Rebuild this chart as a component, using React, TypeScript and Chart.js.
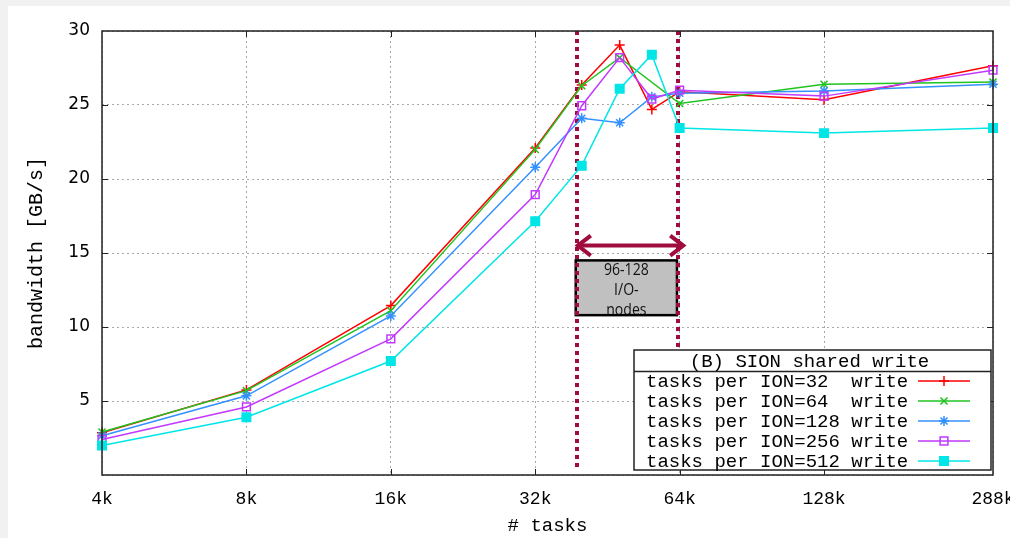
import React, { useEffect, useRef } from "react";
import { Chart, registerables } from "chart.js";
import { drawPoint } from "chart.js/helpers";

Chart.register(...registerables);

// ---- data ----
const TASKS = [4096, 8192, 16384, 32768, 40960, 49152, 57344, 65536, 131072, 294912];
const ION32 = [2.85, 5.75, 11.45, 22.1, 26.35, 29.05, 24.7, 25.9, 25.35, 27.65];
const ION64 = [2.9, 5.7, 11.1, 22.0, 26.3, 28.2, null, 25.1, 26.4, 26.55];
const ION128 = [2.65, 5.35, 10.75, 20.8, 24.1, 23.8, 25.55, 25.8, 25.95, 26.4];
const ION256 = [2.4, 4.6, 9.2, 18.95, 24.95, 28.2, 25.4, 26.0, 25.6, 27.35];
const ION512 = [2.0, 3.9, 7.7, 17.15, 20.9, 26.1, 28.4, 23.45, 23.1, 23.45];

const SERIES_LABELS = [
  "tasks per ION=32  write",
  "tasks per ION=64  write",
  "tasks per ION=128 write",
  "tasks per ION=256 write",
  "tasks per ION=512 write",
];
const LEGEND_TITLE = "(B) SION shared write";

const X_TICKS = [4096, 8192, 16384, 32768, 65536, 131072, 294912];
const X_TICK_LABELS = ["4k", "8k", "16k", "32k", "64k", "128k", "288k"];
const Y_TICKS = [0, 5, 10, 15, 20, 25, 30];
const Y_TICK_LABELS = ["", "5", "10", "15", "20", "25", "30"];
const X_TITLE = "# tasks";
const Y_TITLE = "bandwidth [GB/s]";

// annotation (I/O node range)
const RANGE_LINES = [40000, 65000];
const ARROW_X = [40000, 67000];
const ARROW_Y = 15.5;
const BOX_X = [39800, 64700];
const BOX_Y = [10.8, 14.5];
const BOX_TEXT = ["96-128", "I/O-", "nodes"];

const MAROON = "#a00c3e";

const STYLES = [
  { color: "#ff0000", fill: "#ff0000", point: "cross", r: 5 },
  { color: "#1fc41f", fill: "#1fc41f", point: "crossRot", r: 5 },
  { color: "#3391ff", fill: "#3391ff", point: "star", r: 5 },
  { color: "#c238ff", fill: "rgba(0,0,0,0)", point: "rect", r: 5.5 },
  { color: "#00e6e6", fill: "#00e6e6", point: "rect", r: 6 },
];
const SERIES_VALUES = [ION32, ION64, ION128, ION256, ION512];

const annotPlugin = {
  id: "annot",
  beforeDatasetsDraw(chart: any) {
    const { ctx, chartArea: ca, scales } = chart;
    const x = scales.x, y = scales.y;
    ctx.save();
    // grey box
    const bx0 = x.getPixelForValue(BOX_X[0]);
    const bx1 = x.getPixelForValue(BOX_X[1]);
    const by0 = y.getPixelForValue(BOX_Y[1]);
    const by1 = y.getPixelForValue(BOX_Y[0]);
    ctx.fillStyle = "#c0c0c0";
    ctx.fillRect(bx0, by0, bx1 - bx0, by1 - by0);
    ctx.save();
    ctx.beginPath();
    ctx.rect(bx0, by0, bx1 - bx0, by1 - by0);
    ctx.clip();
    ctx.fillStyle = "#111";
    ctx.font = '16px "Open Sans"';
    ctx.textAlign = "center";
    ctx.textBaseline = "alphabetic";
    const cx = (bx0 + bx1) / 2;
    BOX_TEXT.forEach((t, i) => {
      ctx.save();
      ctx.translate(cx, by0 + 14.5 + i * 20);
      ctx.scale(0.88, 1);
      ctx.fillText(t, 0, 0);
      ctx.restore();
    });
    ctx.restore();
    ctx.strokeStyle = "#000";
    ctx.lineWidth = 2.5;
    ctx.strokeRect(bx0, by0, bx1 - bx0, by1 - by0);

    // dotted vertical lines
    ctx.strokeStyle = MAROON;
    ctx.lineWidth = 4;
    ctx.lineCap = "butt";
    ctx.setLineDash([4, 4]);
    RANGE_LINES.forEach((v) => {
      const px = Math.round(x.getPixelForValue(v));
      ctx.beginPath();
      ctx.moveTo(px, ca.top);
      ctx.lineTo(px, ca.bottom - 6);
      ctx.stroke();
    });
    ctx.setLineDash([]);

    // double arrow
    const ax0 = x.getPixelForValue(ARROW_X[0]);
    const ax1 = x.getPixelForValue(ARROW_X[1]);
    const ay = y.getPixelForValue(ARROW_Y);
    ctx.lineWidth = 4;
    ctx.lineJoin = "miter";
    ctx.beginPath();
    ctx.moveTo(ax0 + 2, ay);
    ctx.lineTo(ax1 - 2, ay);
    ctx.stroke();
    ctx.beginPath();
    ctx.moveTo(ax0 + 14, ay - 10);
    ctx.lineTo(ax0 + 1, ay);
    ctx.lineTo(ax0 + 14, ay + 10);
    ctx.stroke();
    ctx.beginPath();
    ctx.moveTo(ax1 - 14, ay - 10);
    ctx.lineTo(ax1 - 1, ay);
    ctx.lineTo(ax1 - 14, ay + 10);
    ctx.stroke();
    ctx.restore();
  },
  afterDatasetsDraw(chart: any) {
    const { ctx, chartArea: ca, scales } = chart;
    const x = scales.x, y = scales.y;
    ctx.save();
    // border
    ctx.strokeStyle = "#222";
    ctx.lineWidth = 1.5;
    ctx.strokeRect(ca.left, ca.top, ca.right - ca.left, ca.bottom - ca.top);
    // inward tick marks
    ctx.lineWidth = 1;
    ctx.beginPath();
    X_TICKS.slice(1, -1).forEach((v) => {
      const px = Math.round(x.getPixelForValue(v)) + 0.5;
      ctx.moveTo(px, ca.bottom);
      ctx.lineTo(px, ca.bottom - 6);
      ctx.moveTo(px, ca.top);
      ctx.lineTo(px, ca.top + 6);
    });
    Y_TICKS.slice(1, -1).forEach((v) => {
      const py = Math.round(y.getPixelForValue(v)) + 0.5;
      ctx.moveTo(ca.left, py);
      ctx.lineTo(ca.left + 6, py);
      ctx.moveTo(ca.right, py);
      ctx.lineTo(ca.right - 6, py);
    });
    ctx.stroke();

    // legend box
    const R = ca.right - 2;
    const B = ca.bottom - 5;
    const L = R - 357;
    const T = B - 120;
    ctx.fillStyle = "#fff";
    ctx.fillRect(L, T, R - L, B - T);
    ctx.strokeStyle = "#222";
    ctx.lineWidth = 1.5;
    ctx.strokeRect(L, T, R - L, B - T);
    ctx.beginPath();
    ctx.moveTo(L, T + 21.5);
    ctx.lineTo(R, T + 21.5);
    ctx.stroke();
    ctx.fillStyle = "#000";
    ctx.font = '19px "Liberation Mono"';
    ctx.textBaseline = "middle";
    ctx.textAlign = "center";
    ctx.fillText(LEGEND_TITLE, (L + R) / 2 - 3, T + 11.5);
    ctx.textAlign = "left";
    SERIES_LABELS.forEach((lab, i) => {
      const cy = T + 31 + i * 20;
      ctx.fillStyle = "#000";
      ctx.fillText(lab, L + 12, cy + 1);
      const s = STYLES[i];
      ctx.strokeStyle = s.color;
      ctx.lineWidth = 1.5;
      ctx.beginPath();
      ctx.moveTo(R - 73, cy);
      ctx.lineTo(R - 21, cy);
      ctx.stroke();
      ctx.fillStyle = s.fill;
      drawPoint(ctx, { pointStyle: s.point, rotation: 0, radius: s.r, borderWidth: 1.5 } as any, R - 47, cy);
    });
    ctx.restore();
  },
};

export default function App() {
  const ref = useRef<HTMLCanvasElement | null>(null);

  useEffect(() => {
    if (!ref.current) return;
    const datasets = SERIES_VALUES.map((vals, i) => {
      const s = STYLES[i];
      return {
        label: SERIES_LABELS[i],
        data: TASKS.map((t, j) => ({ x: t, y: vals[j] })).filter((p) => p.y !== null),
        borderColor: s.color,
        backgroundColor: s.fill,
        borderWidth: 1.5,
        pointStyle: s.point,
        pointRadius: s.r,
        pointBorderWidth: 1.5,
        pointBorderColor: s.color,
        pointBackgroundColor: s.fill,
        tension: 0,
        clip: false,
        order: 4 - i,
      };
    });

    const chart = new Chart(ref.current, {
      type: "line",
      data: { datasets } as any,
      options: {
        animation: false,
        responsive: true,
        maintainAspectRatio: false,
        events: [],
        layout: { padding: { top: 25, right: 17, left: 0, bottom: 0 } },
        plugins: { legend: { display: false }, tooltip: { enabled: false } },
        scales: {
          x: {
            type: "logarithmic",
            min: 4096,
            max: 294912,
            afterBuildTicks: (scale: any) => {
              scale.ticks = X_TICKS.map((v) => ({ value: v }));
            },
            afterFit: (scale: any) => {
              scale.height = 63;
              scale.paddingLeft = 0;
              scale.paddingRight = 0;
            },
            ticks: {
              autoSkip: false,
              maxRotation: 0,
              minRotation: 0,
              padding: 13,
              color: "#000",
              font: { family: "Liberation Mono", size: 18 },
              callback: (v: any) => {
                const k = X_TICKS.indexOf(Number(v));
                return k >= 0 ? X_TICK_LABELS[k] : "";
              },
            },
            grid: { color: "#a8a8a8", lineWidth: 1, drawTicks: false },
            border: { display: false, dash: [2, 3] },
            title: {
              display: true,
              text: X_TITLE,
              color: "#000",
              font: { family: "Liberation Mono", size: 19 },
              padding: { top: 0, bottom: 1 },
            },
          },
          y: {
            type: "linear",
            min: 0,
            max: 30,
            afterBuildTicks: (scale: any) => {
              scale.ticks = Y_TICKS.map((v) => ({ value: v }));
            },
            afterFit: (scale: any) => {
              scale.width = 94;
              scale.paddingTop = 0;
              scale.paddingBottom = 0;
            },
            ticks: {
              padding: 12,
              color: "#000",
              font: { family: "DejaVu Sans", size: 17 },
              callback: (v: any) => {
                const k = Y_TICKS.indexOf(Number(v));
                return k >= 0 ? Y_TICK_LABELS[k] : "";
              },
            },
            grid: { color: "#a8a8a8", lineWidth: 1, drawTicks: false },
            border: { display: false, dash: [2, 3] },
            title: {
              display: true,
              text: Y_TITLE,
              color: "#000",
              font: { family: "Liberation Mono", size: 20 },
              padding: { top: 17, bottom: 0 },
            },
          },
        },
      } as any,
      plugins: [annotPlugin],
    });
    return () => chart.destroy();
  }, []);

  return (
    <div style={{ position: "fixed", left: 0, top: 0, width: 1010, height: 538, background: "#f1f1f1" }}>
      <div style={{ position: "absolute", left: 8, top: 6, width: 1002, height: 532, background: "#fff" }}>
        <canvas ref={ref} />
      </div>
    </div>
  );
}
